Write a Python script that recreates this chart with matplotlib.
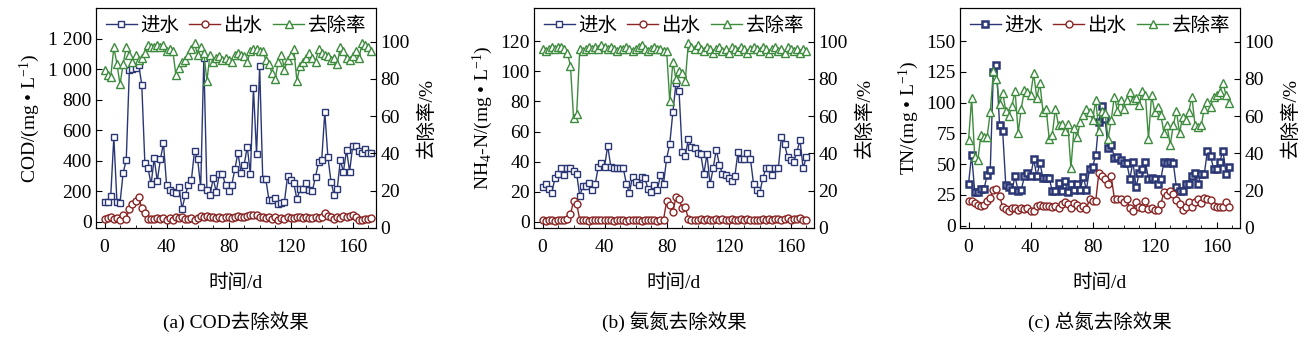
import matplotlib
matplotlib.use("Agg")
import matplotlib.pyplot as plt
from matplotlib.ticker import MultipleLocator, FixedLocator

plt.rcParams['font.family'] = ['Liberation Serif', 'Noto Sans CJK SC']
plt.rcParams['mathtext.fontset'] = 'custom'
plt.rcParams['mathtext.rm'] = 'Liberation Serif'
plt.rcParams['mathtext.it'] = 'Liberation Serif:italic'
plt.rcParams['font.size'] = 14

# ---- data ----
days_a = [0, 2, 4, 6, 8, 10, 12, 14, 16, 18, 20, 22, 24, 26, 28, 30, 32, 34, 36, 38,
          40, 42, 44, 46, 48, 50, 52, 54, 56, 58, 60, 62, 64, 66, 68, 70, 72, 74, 76, 78,
          80, 82, 84, 86, 88, 90, 92, 94, 96, 98, 100, 102, 104, 106, 108, 110, 112, 114,
          116, 118, 120, 122, 124, 126, 128, 130, 132, 134, 136, 138, 140, 142, 144, 146,
          148, 150, 152, 154, 156, 158, 160, 162, 164, 166, 168, 170, 172]
cod_in = [132, 132, 169, 555, 132, 125, 322, 405, 993, 1000,
          1010, 1030, 899, 384, 355, 245, 416, 268, 410, 515,
          241, 208, 197, 186, 226, 83, 175, 241, 274, 465,
          412, 226, 1070, 208, 175, 285, 197, 311, 313, 241,
          204, 241, 344, 454, 318, 373, 493, 313, 877, 443,
          1020, 278, 278, 143, 143, 154, 116, 125, 132, 300,
          274, 252, 149, 213, 213, 252, 208, 204, 296, 390,
          405, 719, 423, 263, 175, 215, 405, 329, 471, 329,
          500, 500, 467, 450, 476, 450, 450]
cod_out = [20, 28, 30, 22, 25, 15, 45, 22, 85, 115,
           140, 165, 90, 55, 20, 22, 18, 25, 20, 28,
           15, 25, 12, 30, 25, 30, 20, 22, 25, 15,
           28, 40, 35, 40, 30, 35, 28, 30, 25, 30,
           32, 28, 35, 38, 30, 35, 40, 42, 48, 42,
           35, 30, 25, 35, 22, 30, 15, 25, 20, 30,
           28, 25, 35, 30, 25, 30, 28, 25, 30, 28,
           35, 55, 40, 30, 20, 30, 28, 40, 35, 40,
           45, 30, 15, 15, 20, 20, 28]
cod_rem = [85, 82, 81, 97, 88, 77, 88, 97, 93, 89,
           93, 90, 91, 94, 98, 97, 97, 98, 97, 98,
           95, 96, 95, 82, 86, 89, 90, 93, 96, 99,
           93, 97, 94, 79, 93, 89, 91, 92, 90, 91,
           90, 89, 93, 94, 93, 92, 89, 95, 96, 96,
           95, 95, 90, 88, 83, 80, 89, 93, 85, 90,
           93, 96, 79, 87, 89, 91, 94, 91, 89, 96,
           94, 93, 92, 90, 91, 88, 97, 95, 91, 90,
           92, 95, 91, 99, 98, 97, 95]

days_b = days_a[:86]
nh4_in = [23, 25, 22, 19.5, 29, 32, 36, 31, 35.5, 35.5,
          34, 32, 17, 24, 24, 26, 21.5, 25.5, 36.7, 39,
          36.7, 50.7, 36.7, 36, 36, 36, 36, 25.5, 19.3, 30,
          26.7, 24.4, 30, 29, 22, 20, 24.4, 21, 31, 25.5,
          42, 51.8, 72.7, 92, 87, 46.7, 44, 55, 50, 49,
          46, 45, 32, 45, 25, 35.5, 48, 38, 32, 31,
          29, 27, 30.4, 46.7, 41.5, 41.5, 45.6, 42, 25.5, 21,
          19.3, 29, 35.5, 35.5, 31, 35.5, 35.5, 56.7, 51.8, 43,
          41, 40, 46.7, 54.4, 35.5, 43]
nh4_out = [1.2, 0.8, 1.0, 1.2, 0.9, 1.1, 1.0, 1.3, 2.0, 5.0,
           14.0, 12.0, 1.5, 1.0, 1.2, 0.9, 1.1, 1.0, 1.3, 1.0,
           1.5, 1.0, 1.2, 0.8, 1.0, 1.1, 1.3, 0.9, 1.0, 1.2,
           1.4, 1.0, 0.9, 1.2, 1.0, 1.1, 1.3, 0.8, 1.0, 1.5,
           14.0, 11.0, 6.5, 16.5, 15.0, 9.5, 10.0, 2.0, 1.2, 1.5,
           1.0, 1.8, 1.2, 2.0, 1.5, 1.0, 1.8, 1.3, 2.0, 1.5,
           1.2, 2.0, 1.0, 1.5, 2.2, 1.3, 1.8, 1.0, 1.2, 1.5,
           1.0, 1.8, 1.3, 2.0, 1.5, 2.2, 1.8, 1.2, 2.0, 2.5,
           1.5, 2.0, 1.8, 2.5, 1.5, 1.2]
nh4_rem = [96, 95, 96, 97, 96, 97, 97, 96, 94, 87,
           59, 61, 96, 95, 96, 97, 96, 97, 96, 98,
           97, 96, 97, 96, 95, 96, 96, 97, 96, 95,
           96, 97, 98, 96, 95, 96, 97, 96, 96, 95,
           95, 68, 89, 80, 84, 83, 79, 99, 97, 96,
           98, 96, 95, 97, 96, 94, 96, 97, 95, 96,
           94, 97, 96, 95, 97, 96, 94, 96, 97, 96,
           95, 97, 96, 94, 96, 97, 95, 96, 94, 97,
           96, 95, 96, 94, 96, 95]

days_c = days_a[:85]
tn_in = [34, 57.6, 27.6, 27, 30, 30, 41, 45, 125, 130.5,
         81.6, 77, 33, 31.6, 29, 40, 28, 29, 40, 43,
         40, 54, 40, 51, 38.6, 38.6, 38.6, 28, 28, 35,
         28, 36, 27, 34, 29, 34, 29, 39.7, 29, 46,
         48, 57, 84.6, 97, 87, 63, 65.9, 55, 56, 53,
         51, 51, 38, 52, 31, 42.7, 46, 52, 38, 39,
         38, 34, 38, 52, 51, 52, 51, 31, 28, 28,
         34, 34, 40.5, 43, 34, 42, 42, 61, 56.8, 46,
         45.7, 52, 61, 42, 48]
tn_out = [19.7, 19.7, 18.4, 17, 16, 17, 19.7, 22.4, 29, 29.7,
          24.3, 15, 13.5, 12, 14, 14, 13, 14, 13.5, 14,
          12, 12, 15.7, 17, 16, 16, 15.7, 15, 16, 14,
          17.6, 19.5, 17.8, 14, 18, 16.5, 14, 16, 13.5, 21.6,
          20, 20, 43, 40, 37.6, 34, 40, 22, 21.6, 22,
          19.5, 21.6, 14, 12, 19.5, 15, 14, 20, 13.5, 14,
          13, 13, 17.8, 27.6, 24.6, 28, 26, 21, 17.8, 13,
          15, 19.5, 15, 19.5, 22, 18.6, 22.7, 22, 21, 16,
          15, 15, 15, 19.5, 15]
tn_rem = [47, 69.6, 38, 36.5, 50, 48.7, 49, 62, 84, 80,
          66.5, 72.6, 63, 60, 65.5, 73.7, 51, 64, 74, 73,
          71.4, 83, 69.6, 77.6, 62.4, 64, 48, 50, 64, 55,
          56, 52, 56, 32, 53.5, 48.7, 57, 60.6, 64, 62.4,
          58, 68.7, 52, 63, 61.5, 48, 58, 70.5, 63, 68.7,
          64, 68.7, 73, 68.7, 69.6, 66, 73.7, 71.4, 48, 71.4,
          62.4, 65, 60.6, 50.8, 55, 44.5, 55, 63, 50.8, 59.7,
          58, 62.4, 70.5, 55, 54.4, 55, 64, 67.8, 65, 70.5,
          71.4, 73, 77.6, 71.4, 67]

cod_ticks = [0, 200, 400, 600, 800, 1000, 1200]
cod_ticklabels = ['0', '200', '400', '600', '800', '1 000', '1 200']
nh4_ticks = [0, 20, 40, 60, 80, 100, 120]
tn_ticks = [0, 25, 50, 75, 100, 125, 150]
rem_ticks = [0, 20, 40, 60, 80, 100]
x_ticks = [0, 40, 80, 120, 160]

C_IN = '#2b3775'
C_OUT = '#8a2424'
C_REM = '#3d8b3d'

fig = plt.figure(figsize=(13.04, 3.4), dpi=100)

panels = [
    (96, days_a, cod_in, cod_out, cod_rem, cod_ticks, cod_ticklabels, (-40, 1400),
     'COD/(mg • L$^{-1}$)', '(a) COD去除效果', 1.0),
    (534, days_b, nh4_in, nh4_out, nh4_rem, nh4_ticks, None, (-4, 142),
     'NH$_4$-N/(mg • L$^{-1}$)', '(b) 氨氮去除效果', 1.0),
    (960, days_c, tn_in, tn_out, tn_rem, tn_ticks, None, (-2, 177),
     'TN/(mg • L$^{-1}$)', '(c) 总氮去除效果', 1.8),
]

for left_px, d, yin, yout, yrem, yt, ytl, ylim, ylab, cap, in_mew in panels:
    ax = fig.add_axes([left_px / 1304, (340 - 228) / 340, 280 / 1304, 220 / 340])
    ax2 = ax.twinx()

    l1, = ax.plot(d, yin, '-s', color=C_IN, lw=1, ms=5, mfc='white', mec=C_IN, mew=in_mew)
    l2, = ax.plot(d, yout, '-o', color=C_OUT, lw=1, ms=5, mfc='white', mec=C_OUT, mew=1)
    l3, = ax2.plot(d, yrem, '-^', color=C_REM, lw=1, ms=6, mfc='white', mec=C_REM, mew=1)

    ax.set_xlim(-5.5, 175)
    ax.set_ylim(*ylim)
    ax2.set_ylim(0, 118)
    ax.xaxis.set_major_locator(FixedLocator(x_ticks))
    ax.xaxis.set_minor_locator(MultipleLocator(10))
    ax.yaxis.set_major_locator(FixedLocator(yt))
    if ytl:
        ax.set_yticklabels(ytl)
    ax2.yaxis.set_major_locator(FixedLocator(rem_ticks))

    ax.tick_params(axis='both', which='both', direction='in', labelsize=14)
    ax.tick_params(axis='x', which='major', length=4, pad=8)
    ax.tick_params(axis='x', which='minor', length=2.5)
    ax.tick_params(axis='y', length=4, pad=3)
    ax2.tick_params(axis='y', direction='in', length=4, pad=3, labelsize=14)

    ax.set_ylabel(ylab, fontsize=14, labelpad=4)
    ax2.set_ylabel('去除率/%', fontsize=14, labelpad=6)

    ax2.legend([l1, l2, l3], ['进水', '出水', '去除率'], loc='upper center',
               ncol=3, frameon=False, fontsize=14, handlelength=1.6,
               handletextpad=0.2, columnspacing=0.5, borderaxespad=0.05)

    cx = (left_px + 140) / 1304
    fig.text(cx, 1 - 283 / 340, '时间/d', ha='center', va='center', fontsize=14)
    fig.text(cx, 1 - 322 / 340, cap, ha='center', va='center', fontsize=14)

plt.savefig('out.png', dpi=100)
